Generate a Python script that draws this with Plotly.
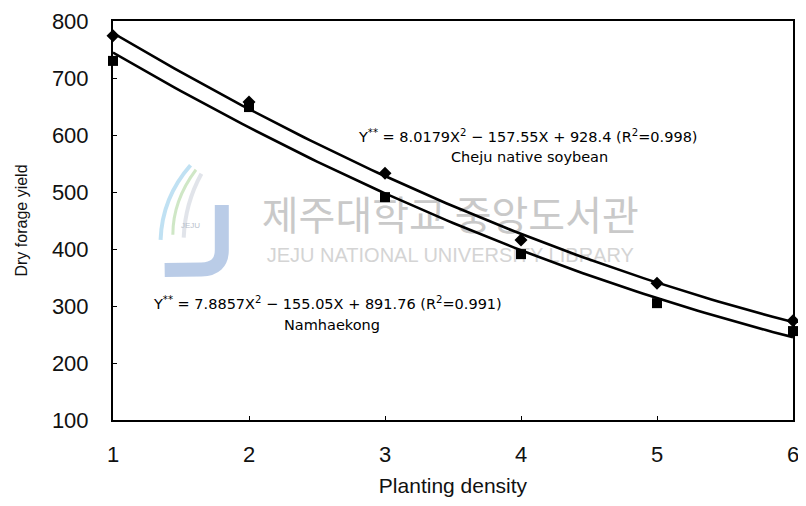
import numpy as np
import plotly.graph_objects as go

density = [1, 2, 3, 4, 5, 6]
cheju_yield = [774, 658, 533, 416, 340, 274]
namhae_yield = [730, 649, 491, 391, 305, 256]

# printed quadratic fit coefficients (a, b, c) for Y = aX^2 + bX + c
cheju_coef = [8.0179, -157.55, 928.4]
namhae_coef = [7.8857, -155.05, 891.76]

x_fit = np.linspace(1, 6, 101)

def fit(coef):
    return coef[0] * x_fit ** 2 + coef[1] * x_fit + coef[2]

fig = go.Figure()

# watermark (drawn first so the data lines sit on top)
fig.add_trace(go.Scatter(x=[3.48], y=[451], mode="text", text=["제주대학교 중앙도서관"],
                         textfont=dict(family="Noto Sans CJK KR", size=40, color="#c9c9c9"),
                         hoverinfo="skip", showlegend=False, cliponaxis=False))
fig.add_trace(go.Scatter(x=[3.48], y=[386], mode="text", text=["JEJU NATIONAL UNIVERSITY LIBRARY"],
                         textfont=dict(family="Liberation Sans", size=20, color="#d4d4d4"),
                         hoverinfo="skip", showlegend=False, cliponaxis=False))
fig.add_trace(go.Scatter(x=[1.57], y=[440], mode="text", text=["JEJU"],
                         textfont=dict(family="Liberation Sans", size=8, color="#b8bfcc"),
                         hoverinfo="skip", showlegend=False, cliponaxis=False))

for coef in (cheju_coef, namhae_coef):
    fig.add_trace(go.Scatter(x=x_fit, y=fit(coef), mode="lines",
                             line=dict(color="black", width=2.6), showlegend=False,
                             hoverinfo="skip", cliponaxis=False))

fig.add_trace(go.Scatter(x=density, y=cheju_yield, mode="markers", name="Cheju native soybean",
                         marker=dict(symbol="diamond", size=10, color="black"), cliponaxis=False))
fig.add_trace(go.Scatter(x=density, y=namhae_yield, mode="markers", name="Namhaekong",
                         marker=dict(symbol="square", size=10, color="black"), cliponaxis=False))

# faint logo of the watermark
logo = [
    ("M 1.80 477 L 1.80 398 Q 1.80 365 1.65 364 L 1.38 363", "rgba(140,170,215,0.6)", 14),
    ("M 1.57 547 Q 1.36 490 1.35 416", "rgba(150,205,235,0.6)", 4),
    ("M 1.61 539 Q 1.44 485 1.44 425", "rgba(175,215,160,0.6)", 3),
    ("M 1.65 532 Q 1.53 480 1.52 420", "rgba(205,210,220,0.6)", 4),
]
for path, col, w in logo:
    fig.add_shape(type="path", path=path, xref="x", yref="y", layer="below",
                  line=dict(color=col, width=w))

eqfont = dict(family="DejaVu Sans", size=14.5, color="black")
fig.add_annotation(x=4.05, y=598, text="Y<sup>**</sup> = 8.0179X<sup>2</sup> − 157.55X + 928.4 (R<sup>2</sup>=0.998)",
                   showarrow=False, font=eqfont)
fig.add_annotation(x=4.06, y=561, text="Cheju native soybean", showarrow=False, font=eqfont)
fig.add_annotation(x=2.58, y=305, text="Y<sup>**</sup> = 7.8857X<sup>2</sup> − 155.05X + 891.76 (R<sup>2</sup>=0.991)",
                   showarrow=False, font=eqfont)
fig.add_annotation(x=2.61, y=267, text="Namhaekong", showarrow=False, font=eqfont)

fig.update_layout(
    width=798, height=498,
    margin=dict(l=105, r=13, t=13, b=86),
    paper_bgcolor="white", plot_bgcolor="white",
    showlegend=False,
    font=dict(family="Liberation Sans", color="#111"),
)
fig.update_xaxes(range=[1, 6], tickvals=density, ticks="inside", ticklen=4, tickcolor="black",
                 showline=True, linecolor="black", linewidth=2, mirror=True, showgrid=False, zeroline=False,
                 automargin=False, ticklabelstandoff=14, ticklabeloverflow="allow",
                 tickfont=dict(size=22), title=dict(text="Planting density", font=dict(size=21), standoff=12))
fig.update_yaxes(range=[100, 800], dtick=100, ticks="inside", ticklen=4, tickcolor="black",
                 showline=True, linecolor="black", linewidth=2, mirror=True, showgrid=False, zeroline=False,
                 automargin=False, ticklabelstandoff=18, ticklabeloverflow="allow",
                 tickfont=dict(size=22), title=dict(text="Dry forage yield", font=dict(size=16), standoff=20))

fig.write_html("out.html")
